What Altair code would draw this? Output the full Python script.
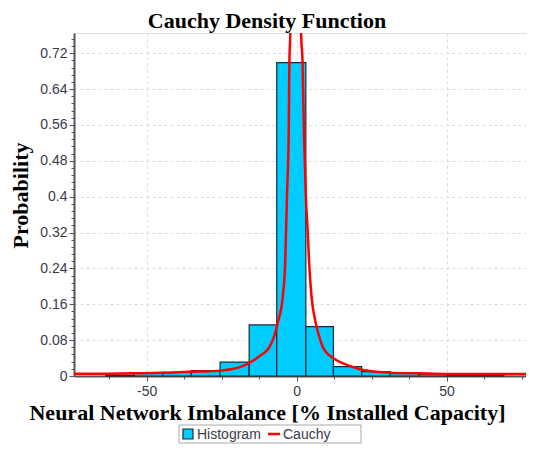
import altair as alt
import pandas as pd

# Histogram bins (edges) and probabilities
bin_left = [-63.6, -54.1, -44.6, -35.1, -25.5, -15.8, -6.6, 3.1, 12.3, 21.7, 31.2, 40.7, 50.1, 59.6]
bin_right = [-54.1, -44.6, -35.1, -25.5, -15.8, -6.6, 3.1, 12.3, 21.7, 31.2, 40.7, 50.1, 59.6, 69.1]
bin_prob = [0.002, 0.006, 0.008, 0.012, 0.031, 0.114, 0.699, 0.110, 0.021, 0.0096, 0.006, 0.004, 0.002, 0.001]

# Fitted Cauchy curve
cauchy_x = [-74.2, -65, -55, -45, -38, -32, -25.5, -21, -18.5, -15.8, -12.2, -9.1, -7.5, -6.3,
            -4.6, -3.8, -3.2, -2.6, -2.4, -2.07, -1.2, -0.3, 0.6, 1.5, 2.0, 2.5, 3.1, 3.7, 4.2,
            5.0, 6.4, 7.8, 8.7, 10.0, 12.4, 15.5, 18.0, 21.0, 24.4, 31.0, 40.8, 50.0, 60.0, 70.0, 76.5]
cauchy_y = [0.005, 0.005, 0.006, 0.007, 0.009, 0.010, 0.012, 0.016, 0.021, 0.029, 0.045, 0.064, 0.088, 0.118,
            0.177, 0.251, 0.400, 0.548, 0.697, 0.766, 1.3, 2.0, 1.6, 0.766, 0.700, 0.533, 0.400, 0.325, 0.252,
            0.177, 0.118, 0.082, 0.065, 0.052, 0.039, 0.028, 0.022, 0.015, 0.011, 0.0074, 0.006, 0.0045, 0.0045, 0.0045, 0.0045]

series = ["Histogram", "Cauchy"]
x_major = [-50, 0, 50]
x_minor = [-62.5, -37.5, -25, -12.5, 12.5, 25, 37.5, 62.5, 75]
y_major = [0, 0.08, 0.16, 0.24, 0.32, 0.4, 0.48, 0.56, 0.64, 0.72]
y_minor = [0.016, 0.032, 0.048, 0.064, 0.096, 0.112, 0.128, 0.144, 0.176, 0.192, 0.208, 0.224,
           0.256, 0.272, 0.288, 0.304, 0.336, 0.352, 0.368, 0.384, 0.416, 0.432, 0.448, 0.464,
           0.496, 0.512, 0.528, 0.544, 0.576, 0.592, 0.608, 0.624, 0.656, 0.672, 0.688, 0.704,
           0.736, 0.752]

hist_df = pd.DataFrame({"x0": bin_left, "x1": bin_right, "p": bin_prob, "series": series[0]})
curve_df = pd.DataFrame({"cx": cauchy_x, "cy": cauchy_y, "series": series[1]})
hist_key = pd.DataFrame({"series": [series[0]]})
cauchy_key = pd.DataFrame({"series": [series[1]]})

xscale = alt.Scale(domain=[-74.2, 76.5], nice=False, zero=False)
yscale = alt.Scale(domain=[0, 0.765], nice=False, zero=False)
cscale = alt.Scale(domain=series, range=["#00CCFF", "#FF0000"])

label_font = "Liberation Sans"
title_font = "Liberation Serif"
label_color = "#3a3a4a"
bar_edge = "#1c2a33"

x_axis = alt.Axis(
    values=x_major, grid=True, gridDash=[3, 3], gridColor="#dcdcdc", gridWidth=1,
    tickSize=5, tickColor="#555555", domainColor="#555555", domainWidth=2,
    labelFont=label_font, labelFontSize=14, labelColor=label_color, labelPadding=3,
    labelExpr="datum.value + ''",
    title="Neural Network Imbalance [% Installed Capacity]",
    titleFont=title_font, titleFontSize=22, titleFontWeight="bold", titleColor="black",
    titleX=193, titleY=43, titleAlign="center", titleBaseline="alphabetic",
    orient="bottom",
)
y_axis = alt.Axis(
    values=y_major, grid=True, gridDash=[3, 3], gridColor="#dcdcdc", gridWidth=1,
    tickSize=5, tickColor="#555555", domainColor="#555555", domainWidth=2,
    labelFont=label_font, labelFontSize=14, labelColor=label_color, labelPadding=2,
    labelExpr="format(datum.value, '.2~f')",
    title="Probability", titleFont=title_font, titleFontSize=22, titleFontWeight="bold",
    titleColor="black", titleX=-47, titleY=162, titleAngle=270, titleAlign="center",
    titleBaseline="alphabetic", orient="left",
)
x_minor_axis = alt.Axis(values=x_minor, labels=False, grid=False, domain=False, tickSize=3,
                        tickColor="#555555", title=None, orient="bottom")
y_minor_axis = alt.Axis(values=y_minor, labels=False, grid=False, domain=False, tickSize=3,
                        tickColor="#555555", title=None, orient="left")

bars = alt.Chart(hist_df).mark_bar(stroke=bar_edge, strokeWidth=1.2, opacity=1).encode(
    x=alt.X("x0:Q", scale=xscale, axis=x_axis),
    x2="x1:Q",
    y=alt.Y("p:Q", scale=yscale, axis=y_axis),
    y2=alt.datum(0),
    color=alt.Color("series:N", scale=cscale, legend=None),
)

line = alt.Chart(curve_df).mark_line(strokeWidth=2.5, clip=True, interpolate="monotone").encode(
    x=alt.X("cx:Q", scale=xscale, axis=x_minor_axis),
    y=alt.Y("cy:Q", scale=yscale, axis=y_minor_axis),
    color=alt.Color("series:N", scale=cscale, legend=None),
)

# legend (box, swatches and labels) below the axis title
key_box = alt.Chart(hist_key).mark_rect(fill="white", stroke="#aaaaaa", strokeWidth=1).encode(
    x=alt.value(105), x2=alt.value(287), y=alt.value(392), y2=alt.value(410),
)
key_swatch = alt.Chart(hist_key).mark_rect(stroke=bar_edge, strokeWidth=1.2).encode(
    x=alt.value(109), x2=alt.value(119), y=alt.value(396), y2=alt.value(406),
    color=alt.Color("series:N", scale=cscale, legend=None),
)
key_line = alt.Chart(cauchy_key).mark_rule(strokeWidth=2.5).encode(
    x=alt.value(194), x2=alt.value(206), y=alt.value(401),
    color=alt.Color("series:N", scale=cscale, legend=None),
)
key_text_h = alt.Chart(hist_key).mark_text(
    align="left", baseline="middle", font=label_font, fontSize=14, color=label_color
).encode(x=alt.value(123), y=alt.value(401.5), text="series:N")
key_text_c = alt.Chart(cauchy_key).mark_text(
    align="left", baseline="middle", font=label_font, fontSize=14, color=label_color
).encode(x=alt.value(209), y=alt.value(401.5), text="series:N")

chart = alt.layer(
    bars, line, key_box, key_swatch, key_line, key_text_h, key_text_c
).resolve_axis(x="independent", y="independent").properties(
    width=452, height=343,
    title=alt.TitleParams("Cauchy Density Function", font=title_font, fontSize=22,
                          fontWeight="bold", color="black", anchor="middle", dx=-33,
                          dy=25, offset=8, baseline="alphabetic"),
    autosize=alt.AutoSizeParams(type="none"),
    padding={"left": 66, "top": 25, "right": 0, "bottom": 68},
).configure_view(stroke="#555555", strokeWidth=1.5).configure(background="white")

chart.save("out.html", embed_options={"renderer": "svg", "actions": False})
